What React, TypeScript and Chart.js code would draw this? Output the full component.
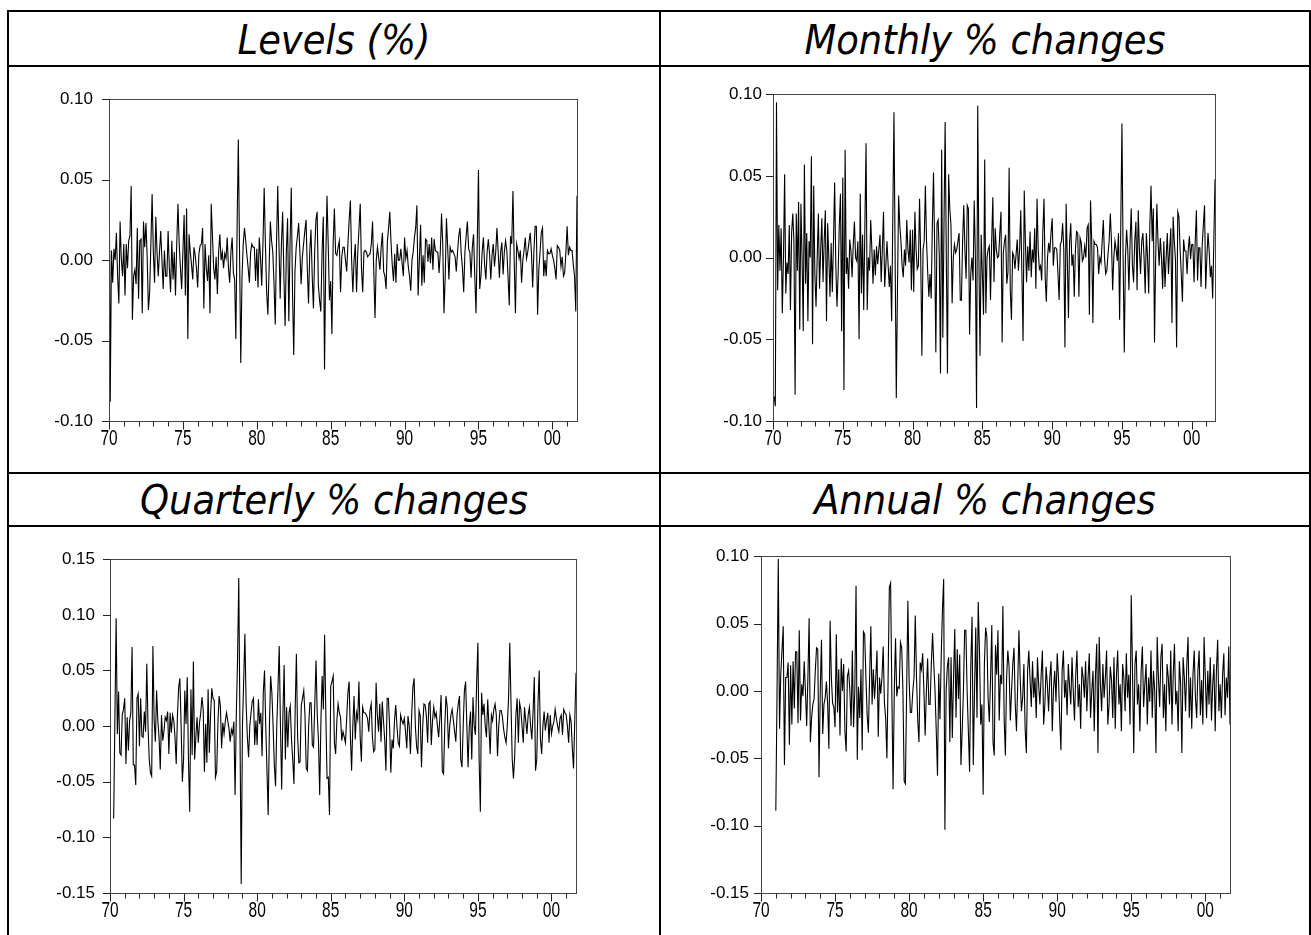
import React, { useEffect, useRef } from "react";
import { Chart, registerables } from "chart.js";

Chart.register(...registerables);

// ---------------- DATA ----------------
const START_YEAR = 1970;
const LAST_MONTH = 380; // 2001M9, months counted from 1970M1

const titles = ["Levels (%)", "Monthly % changes", "Quarterly % changes", "Annual % changes"];

const xTickYears = [1970, 1975, 1980, 1985, 1990, 1995, 2000];
const xTickLabels = ["70", "75", "80", "85", "90", "95", "00"];
const yTicksLevels = [-0.1, -0.05, 0, 0.05, 0.1];
const yTicksMonthly = [-0.1, -0.05, 0, 0.05, 0.1];
const yTicksQuarterly = [-0.15, -0.1, -0.05, 0, 0.05, 0.1, 0.15];
const yTicksAnnual = [-0.15, -0.1, -0.05, 0, 0.05, 0.1];

// Levels (%), starts 1970M1
const levelsStart = 0;
const levelsValues = [
  0.087, -0.088, 0.006, -0.014, 0.007, 0.000, 0.017, -0.010, -0.027, 0.024,
  0.001, -0.010, 0.010, -0.022, 0.010, -0.005, 0.012, 0.015, 0.046, -0.037,
  -0.010, -0.006, -0.015, 0.020, -0.024, 0.012, 0.013, -0.033, 0.024, 0.008,
  0.023, 0.002, -0.031, -0.020, 0.010, 0.041, 0.005, -0.014, 0.027, 0.005,
  -0.010, 0.005, 0.018, 0.000, -0.018, 0.006, -0.010, -0.010, 0.018, -0.005,
  -0.020, 0.012, -0.012, 0.005, -0.022, 0.010, 0.035, 0.010, -0.005, -0.018,
  0.005, 0.028, -0.022, 0.032, -0.049, 0.016, 0.005, -0.003, -0.012, 0.008,
  0.003, -0.005, -0.017, 0.004, 0.009, 0.010, 0.020, -0.030, 0.010, -0.005,
  -0.013, 0.003, -0.033, 0.035, 0.015, -0.005, -0.012, 0.002, -0.021, 0.005,
  0.016, 0.000, 0.005, -0.005, 0.004, 0.001, 0.014, -0.005, -0.014, 0.005,
  0.014, -0.008, -0.012, -0.049, 0.020, 0.075, 0.005, -0.064, -0.010, 0.010,
  0.020, 0.012, 0.003, -0.005, -0.014, 0.005, 0.010, 0.008, 0.008, -0.013,
  0.007, -0.017, 0.014, 0.002, -0.016, 0.010, 0.045, 0.010, -0.020, -0.034,
  -0.005, 0.024, 0.012, 0.005, -0.015, -0.040, 0.010, 0.046, 0.010, -0.024,
  0.010, 0.030, -0.010, -0.041, 0.005, 0.026, -0.038, 0.010, 0.045, -0.020,
  -0.059, -0.007, 0.008, 0.015, 0.023, 0.005, -0.015, 0.002, 0.010, 0.018,
  0.025, -0.005, -0.027, 0.005, 0.019, -0.010, -0.030, 0.005, 0.025, 0.030,
  -0.016, -0.025, -0.032, 0.005, 0.027, -0.068, 0.000, 0.040, 0.010, -0.025,
  -0.013, -0.046, 0.010, 0.032, 0.004, 0.003, 0.008, 0.012, -0.020, 0.002,
  0.008, 0.008, 0.000, -0.007, 0.010, 0.025, 0.037, 0.000, -0.020, 0.000,
  0.010, -0.020, 0.005, 0.020, 0.035, -0.005, -0.020, 0.005, 0.006, 0.005,
  0.002, 0.003, 0.004, 0.010, 0.024, -0.007, -0.036, 0.000, 0.008, 0.001,
  -0.006, 0.008, 0.017, -0.007, -0.010, -0.018, 0.011, 0.020, 0.030, 0.011,
  -0.003, -0.013, 0.004, -0.014, 0.010, 0.000, 0.000, 0.007, -0.002, -0.010,
  0.014, 0.001, 0.006, -0.004, -0.010, -0.019, 0.000, 0.005, 0.014, 0.020,
  0.034, -0.022, 0.000, 0.022, -0.016, 0.003, -0.014, 0.013, 0.012, -0.001,
  0.010, -0.002, 0.014, -0.006, 0.013, 0.006, 0.005, 0.005, -0.008, 0.005,
  0.029, 0.010, -0.033, -0.010, 0.026, 0.008, -0.012, 0.008, 0.005, 0.006,
  0.004, 0.002, -0.007, 0.005, 0.015, 0.020, 0.004, -0.005, -0.020, 0.005,
  0.015, 0.024, 0.007, 0.005, -0.011, 0.008, 0.016, -0.010, -0.033, 0.010,
  0.056, -0.018, -0.010, 0.005, 0.014, -0.003, -0.012, 0.005, 0.013, 0.004,
  -0.012, 0.003, 0.010, -0.004, 0.005, 0.020, 0.005, -0.011, 0.005, 0.011,
  -0.009, 0.005, 0.012, 0.006, -0.010, -0.028, 0.015, 0.010, 0.043, 0.000,
  -0.033, 0.010, 0.006, 0.001, 0.006, -0.014, 0.000, 0.006, 0.014, 0.001,
  0.005, 0.011, 0.017, 0.005, -0.017, 0.005, 0.021, 0.021, -0.034, -0.006,
  0.005, 0.017, 0.020, -0.010, 0.000, -0.010, 0.006, 0.004, 0.004, 0.007,
  0.003, 0.000, -0.005, -0.012, 0.009, 0.008, 0.006, -0.004, 0.002, -0.010,
  -0.008, 0.005, 0.021, 0.003, 0.008, 0.006, 0.006, -0.003, -0.010, -0.032,
  0.040,
];

// Monthly % changes, starts 1970M2
const monthlyStart = 1;
const monthlyValues = [
  -0.085, -0.091, 0.095, -0.020, 0.020, -0.008, 0.018, -0.034, 0.000, 0.051,
  -0.022, -0.003, -0.010, 0.020, -0.032, 0.015, 0.027, 0.010, -0.084, 0.027,
  -0.008, 0.034, -0.044, 0.033, 0.000, -0.045, 0.057, -0.016, 0.015, -0.039,
  0.010, 0.000, 0.062, -0.053, 0.044, -0.010, -0.030, 0.000, 0.027, -0.019,
  0.005, 0.024, -0.015, 0.010, 0.029, -0.039, 0.021, 0.000, -0.024, 0.009,
  -0.021, 0.010, 0.046, -0.005, -0.030, -0.010, 0.020, 0.039, -0.045, 0.049,
  -0.081, 0.066, -0.010, 0.000, -0.019, 0.011, 0.004, -0.012, 0.008, 0.022,
  0.000, -0.002, 0.010, -0.050, 0.039, -0.022, 0.014, -0.032, 0.020, 0.070,
  -0.032, 0.000, -0.008, 0.023, 0.005, -0.016, 0.005, -0.011, 0.007, -0.004,
  0.005, 0.014, -0.015, 0.005, 0.028, -0.018, -0.005, 0.010, -0.005, -0.018,
  -0.005, -0.039, 0.025, 0.089, 0.000, -0.086, -0.020, 0.038, 0.020, 0.010,
  -0.005, -0.012, 0.005, -0.005, 0.023, 0.005, -0.003, 0.017, -0.020, 0.017,
  -0.021, 0.028, 0.005, -0.007, -0.005, 0.036, 0.000, -0.060, 0.005, 0.010,
  0.044, 0.010, -0.009, -0.024, -0.010, -0.025, 0.020, 0.052, 0.005, -0.058,
  0.021, 0.023, 0.000, -0.071, 0.066, -0.049, 0.020, 0.083, 0.000, -0.071,
  0.051, 0.030, 0.020, -0.028, 0.000, 0.008, 0.003, 0.005, 0.010, 0.015,
  -0.026, -0.026, 0.010, 0.032, 0.005, -0.013, 0.032, 0.030, -0.047, -0.010,
  0.000, -0.014, 0.035, 0.000, -0.092, 0.093, 0.000, -0.060, 0.014, -0.010,
  -0.035, 0.060, -0.034, 0.000, 0.005, 0.007, -0.026, 0.010, 0.037, -0.015,
  0.018, 0.005, 0.000, 0.001, 0.015, 0.028, -0.052, 0.003, 0.010, 0.014,
  -0.016, -0.009, 0.055, -0.020, -0.038, 0.003, 0.001, -0.007, 0.002, 0.011,
  -0.008, 0.005, 0.029, -0.010, -0.051, 0.041, 0.010, -0.015, 0.007, -0.008,
  0.016, -0.012, 0.005, -0.003, 0.018, -0.019, 0.036, 0.005, -0.007, -0.005,
  -0.014, 0.016, 0.036, -0.012, -0.027, 0.000, 0.009, 0.003, 0.015, 0.024,
  -0.005, 0.006, 0.006, 0.005, -0.010, -0.026, 0.008, 0.010, 0.021, 0.005,
  -0.055, 0.033, 0.000, -0.037, 0.010, 0.021, -0.005, 0.002, -0.024, 0.005,
  0.016, 0.015, -0.024, 0.012, 0.009, -0.002, 0.000, 0.007, 0.000, 0.018,
  0.020, -0.035, 0.035, 0.010, -0.040, 0.010, 0.008, 0.008, 0.006, -0.010,
  0.000, -0.003, 0.010, 0.023, 0.000, -0.010, -0.008, 0.002, 0.010, 0.027,
  0.010, -0.020, 0.000, 0.010, 0.005, -0.002, 0.015, -0.038, 0.020, 0.082,
  0.000, -0.058, 0.000, 0.017, 0.005, -0.020, 0.010, 0.030, -0.005, -0.015,
  0.010, 0.022, -0.020, 0.029, 0.005, -0.010, 0.010, 0.015, 0.000, -0.022,
  0.015, 0.000, -0.022, 0.020, 0.044, 0.010, 0.030, -0.052, 0.000, 0.033,
  0.010, -0.005, 0.012, 0.000, -0.019, 0.010, -0.018, 0.000, 0.015, -0.010,
  0.005, 0.018, -0.040, 0.025, 0.010, -0.001, -0.055, 0.028, 0.025, 0.005,
  -0.010, -0.027, 0.011, 0.004, 0.004, -0.010, 0.005, 0.013, -0.001, 0.008,
  0.008, -0.015, 0.010, 0.029, -0.014, 0.006, 0.006, -0.018, 0.008, 0.020,
  0.032, -0.019, 0.000, 0.015, 0.004, -0.012, -0.005, -0.025, 0.010, 0.048,
];

// Quarterly % changes, starts 1970M4
const quarterlyStart = 3;
const quarterlyValues = [
  -0.083, 0.007, 0.097, -0.007, 0.031, -0.024, -0.026, 0.010, 0.015, 0.025,
  -0.034, 0.008, -0.022, 0.005, 0.012, 0.071, -0.035, -0.035, -0.053, 0.025,
  0.029, -0.018, 0.025, -0.009, -0.010, 0.013, -0.005, 0.056, 0.000, -0.030,
  -0.042, -0.045, 0.072, 0.005, -0.014, 0.032, 0.005, -0.010, -0.039, 0.010,
  -0.013, -0.005, 0.008, 0.005, 0.013, -0.025, 0.012, -0.006, 0.010, 0.005,
  -0.010, -0.034, 0.010, 0.035, 0.043, 0.000, -0.050, -0.030, 0.032, 0.002,
  0.044, -0.032, -0.077, 0.033, -0.026, 0.058, -0.030, -0.010, 0.008, -0.015,
  0.003, 0.012, 0.026, 0.015, -0.041, 0.002, -0.033, 0.033, -0.024, 0.010,
  0.034, 0.025, 0.023, -0.046, -0.041, 0.003, 0.027, 0.018, -0.020, 0.003,
  -0.007, 0.004, 0.012, 0.005, -0.002, -0.014, -0.003, -0.007, 0.004, -0.062,
  0.010, 0.060, 0.133, -0.005, -0.142, 0.000, 0.040, 0.083, 0.020, -0.010,
  -0.028, 0.000, 0.012, 0.022, 0.025, -0.017, 0.005, -0.017, 0.024, 0.002,
  0.012, -0.027, 0.030, 0.050, 0.000, -0.040, -0.080, 0.000, 0.045, 0.030,
  0.000, -0.035, -0.054, 0.000, 0.035, 0.072, 0.000, -0.057, 0.010, 0.055,
  -0.030, 0.017, -0.019, 0.012, 0.018, -0.012, -0.030, -0.052, 0.015, 0.065,
  -0.010, -0.033, -0.032, 0.019, 0.025, 0.032, 0.010, -0.038, -0.040, 0.000,
  0.021, 0.021, -0.017, -0.019, 0.020, 0.059, 0.010, -0.013, -0.062, 0.005,
  0.045, 0.015, 0.082, 0.010, -0.047, -0.046, -0.080, 0.036, 0.040, 0.045,
  -0.015, -0.025, 0.005, 0.020, 0.012, 0.008, -0.013, -0.005, -0.010, -0.015,
  0.007, 0.030, 0.040, -0.008, -0.040, 0.000, 0.027, -0.012, 0.012, 0.006,
  0.040, -0.010, -0.032, 0.017, 0.012, 0.012, 0.010, 0.007, -0.005, 0.014,
  0.020, -0.010, -0.023, -0.021, 0.039, 0.010, -0.005, 0.020, -0.014, 0.022,
  0.005, -0.012, -0.040, 0.025, 0.025, 0.000, -0.042, -0.012, -0.020, 0.005,
  0.019, 0.000, -0.015, -0.018, 0.010, 0.005, 0.002, 0.007, -0.005, -0.020,
  0.009, 0.000, -0.025, 0.010, 0.035, 0.043, 0.000, -0.018, -0.025, 0.014,
  0.009, -0.037, 0.000, 0.020, 0.019, 0.009, -0.015, 0.020, 0.022, -0.017,
  0.005, 0.017, 0.008, 0.012, 0.000, -0.010, 0.007, 0.028, -0.041, -0.043,
  0.000, 0.027, 0.017, -0.020, 0.000, 0.010, 0.015, 0.005, -0.005, -0.014,
  0.010, 0.020, 0.027, -0.030, -0.037, 0.000, 0.032, 0.040, 0.000, -0.037,
  0.000, 0.013, -0.030, 0.026, 0.000, -0.008, 0.040, 0.075, -0.030, -0.077,
  0.030, 0.010, 0.020, 0.000, -0.010, 0.024, 0.000, -0.025, 0.010, 0.005,
  0.015, 0.020, 0.010, -0.027, 0.000, 0.014, 0.014, 0.008, -0.003, -0.010,
  -0.015, 0.001, 0.025, 0.075, 0.020, -0.030, -0.047, -0.027, 0.010, 0.025,
  -0.015, 0.021, 0.015, 0.000, -0.015, 0.017, 0.005, -0.007, 0.010, 0.017,
  0.000, -0.012, 0.013, 0.044, -0.040, -0.030, 0.020, 0.050, -0.012, -0.025,
  0.000, 0.013, -0.004, 0.005, 0.012, -0.015, 0.010, -0.007, 0.000, 0.004,
  0.015, 0.007, 0.000, -0.005, 0.007, 0.010, -0.008, 0.015, 0.012, 0.010,
  0.000, -0.015, 0.010, 0.004, -0.020, -0.038, 0.005, 0.048,
];

// Annual % changes, starts 1971M1
const annualStart = 12;
const annualValues = [
  -0.089, 0.000, 0.098, -0.028, 0.012, 0.030, 0.048, -0.055, 0.010, 0.010,
  0.021, -0.040, 0.019, -0.025, 0.022, -0.013, 0.029, 0.029, -0.024, 0.045,
  -0.022, 0.005, -0.004, 0.022, 0.000, -0.026, 0.010, 0.054, -0.038, -0.020,
  -0.010, -0.006, 0.015, 0.032, 0.031, -0.064, 0.000, 0.038, -0.032, -0.010,
  -0.005, 0.007, -0.010, -0.043, 0.052, 0.010, -0.009, -0.012, -0.027, 0.042,
  -0.016, 0.016, -0.033, 0.024, 0.000, 0.020, -0.030, -0.045, 0.011, 0.015,
  0.000, -0.026, 0.030, -0.027, 0.000, 0.078, -0.051, 0.003, -0.020, 0.016,
  -0.044, 0.044, 0.042, 0.010, -0.018, -0.031, 0.010, 0.048, -0.010, 0.016,
  -0.006, 0.010, 0.030, -0.034, 0.010, -0.002, 0.010, 0.033, -0.009, -0.020,
  -0.050, 0.010, 0.077, 0.080, 0.000, -0.073, 0.000, 0.039, -0.004, 0.003,
  0.002, 0.036, 0.032, 0.000, -0.067, -0.069, 0.000, 0.067, 0.008, -0.016,
  -0.016, 0.000, 0.010, 0.056, 0.010, -0.022, -0.038, 0.021, 0.016, 0.028,
  0.000, -0.033, 0.000, 0.024, -0.010, -0.010, 0.020, 0.043, 0.020, 0.000,
  -0.030, -0.063, 0.013, -0.021, 0.025, 0.060, 0.083, -0.103, 0.000, 0.018,
  0.025, -0.038, 0.025, -0.035, 0.010, 0.046, -0.020, 0.031, -0.006, 0.027,
  -0.055, -0.030, 0.000, 0.045, 0.045, 0.000, -0.030, -0.060, 0.020, 0.055,
  -0.055, 0.000, 0.047, -0.020, 0.066, 0.030, -0.025, -0.010, -0.077, 0.020,
  0.047, 0.040, -0.005, -0.023, 0.010, 0.049, -0.038, -0.048, 0.034, 0.012,
  0.045, -0.022,
  0.012, 0.005, 0.063, -0.020, -0.048, 0.010, 0.030, 0.018, -0.022, 0.000,
  0.020, 0.032, -0.010, -0.030, 0.005, 0.045, 0.010, -0.015, -0.005, 0.020,
  -0.028, -0.046, 0.015, 0.030, 0.008, -0.012, 0.022, -0.005, 0.010, -0.020,
  0.025, 0.004, -0.010, 0.012, 0.030, -0.025, -0.010, 0.018, 0.005, -0.015,
  0.010, 0.022, -0.030, 0.002, 0.015, -0.008, 0.028, 0.010, -0.020, -0.044,
  0.015, 0.030, -0.005, 0.008, -0.018, 0.020, 0.003, -0.010, 0.025, 0.000,
  -0.022, 0.012, 0.030, -0.012, 0.005, -0.028, 0.018, 0.010, -0.005, 0.022,
  -0.015, 0.010, 0.028, -0.020, 0.000, 0.015, -0.030, 0.012, 0.035, -0.046,
  0.040, 0.005, -0.015, 0.020, -0.005, 0.010, 0.030, -0.025, -0.010, 0.018,
  0.008, -0.020, 0.025, -0.028, 0.012, 0.030, -0.010, 0.005, -0.030, 0.020,
  0.010, -0.015, 0.028, -0.005, 0.012, -0.025, 0.071, 0.015, -0.046, 0.020,
  0.030, -0.010, 0.005, -0.030, 0.015, 0.033, -0.012, 0.005, 0.020, -0.025,
  0.010, -0.008, 0.030, -0.020, 0.015, 0.000, -0.046, 0.040, 0.010, -0.012,
  0.025, 0.035, -0.020, 0.005, -0.030, 0.020, 0.010, -0.010, 0.030, -0.025,
  0.012, 0.035, -0.010, 0.000, -0.030, 0.022, 0.005, -0.046, 0.025, 0.010,
  -0.015, 0.020, 0.040, -0.020, 0.010, -0.028, 0.012, 0.030, -0.005, -0.020,
  0.015, 0.030, -0.018, 0.008, -0.025, 0.040, 0.010, -0.020, 0.015, -0.010,
  0.025, -0.022, 0.005, 0.020, -0.030, 0.015, 0.038, -0.015, 0.005, -0.020,
  0.012, 0.028, -0.018, 0.010, -0.005, 0.033, -0.025,
];

// ---------------- LAYOUT ----------------
type Rect = { l: number; t: number; r: number; b: number };
type PanelCfg = {
  values: number[];
  start: number;
  yMin: number;
  yMax: number;
  yTicks: number[];
  plot: Rect;
  yPad: number;
};

const PADL = 100;
const PADT = 20;
const PADR = 30;
const PADB = 45;

const framePlugin = {
  id: "evFrame",
  afterDraw(chart: any, _args: any, opts: any) {
    const { ctx, chartArea } = chart;
    const { left, top, right, bottom } = chartArea;
    const xs = chart.scales.x;
    const ys = chart.scales.y;
    const yTicks: number[] = opts.yTicks || [];
    ctx.save();
    ctx.strokeStyle = "#454545";
    ctx.lineWidth = 1;
    ctx.strokeRect(Math.round(left) + 0.5, Math.round(top) + 0.5, Math.round(right - left), Math.round(bottom - top));
    ctx.strokeStyle = "#222";
    ctx.beginPath();
    yTicks.forEach((v) => {
      const y = Math.round(ys.getPixelForValue(v)) + 0.5;
      ctx.moveTo(left - 7, y);
      ctx.lineTo(left + 0.5, y);
    });
    for (let yr = xTickYears[0]; yr <= 2001; yr++) {
      const x = Math.round(xs.getPixelForValue(yr)) + 0.5;
      const len = yr % 5 === 0 ? 8 : 5;
      ctx.moveTo(x, Math.round(bottom) + 0.5);
      ctx.lineTo(x, Math.round(bottom) + 0.5 + len);
    }
    ctx.stroke();
    ctx.fillStyle = "#000";
    ctx.font = '15.5px "Liberation Sans", Arial, sans-serif';
    ctx.textAlign = "center";
    ctx.textBaseline = "top";
    xTickYears.forEach((yr, i) => {
      const x = xs.getPixelForValue(yr);
      ctx.save();
      ctx.translate(x, bottom + 7);
      ctx.scale(1, 1.4);
      ctx.fillText(xTickLabels[i], 0, 0);
      ctx.restore();
    });
    ctx.restore();
  },
};

function Panel({ cfg }: { cfg: PanelCfg }) {
  const ref = useRef<HTMLCanvasElement>(null);
  const { l, t, r, b } = cfg.plot;
  const w = r - l + PADL + PADR;
  const h = b - t + PADT + PADB;

  useEffect(() => {
    const canvas = ref.current;
    if (!canvas) return;
    const data = cfg.values.map((v, i) => ({ x: START_YEAR + (cfg.start + i) / 12, y: v }));
    const chart = new Chart(canvas, {
      type: "line",
      data: {
        datasets: [
          {
            data,
            borderColor: "#000",
            borderWidth: 1.1,
            pointRadius: 0,
            fill: false,
            tension: 0,
          },
        ],
      },
      options: {
        animation: false,
        responsive: false,
        maintainAspectRatio: false,
        devicePixelRatio: 1,
        events: [],
        layout: { padding: { left: 0, top: PADT, right: PADR, bottom: 0 } },
        plugins: {
          legend: { display: false },
          tooltip: { enabled: false },
          evFrame: { yTicks: cfg.yTicks },
        } as any,
        scales: {
          x: {
            type: "linear",
            min: START_YEAR,
            max: START_YEAR + LAST_MONTH / 12,
            grid: { display: false, drawTicks: false },
            border: { display: false },
            ticks: { display: false },
            afterBuildTicks: (s: any) => {
              s.ticks = xTickYears.map((v) => ({ value: v }));
            },
            afterFit: (s: any) => {
              s.height = PADB;
            },
          },
          y: {
            type: "linear",
            min: cfg.yMin,
            max: cfg.yMax,
            grid: { display: false, drawTicks: false },
            border: { display: false },
            ticks: {
              color: "#000",
              padding: cfg.yPad,
              font: { family: '"Liberation Sans", Arial, sans-serif', size: 17 },
              callback: (v: any) => Number(v).toFixed(2),
            },
            afterBuildTicks: (s: any) => {
              s.ticks = cfg.yTicks.map((v) => ({ value: v }));
            },
            afterFit: (s: any) => {
              s.width = PADL;
            },
          },
        } as any,
      },
      plugins: [framePlugin],
    });
    return () => chart.destroy();
  }, []);

  return (
    <canvas
      ref={ref}
      width={w}
      height={h}
      style={{ position: "absolute", left: l - PADL, top: t - PADT, width: w, height: h }}
    />
  );
}

const panels: PanelCfg[] = [
  { values: levelsValues, start: levelsStart, yMin: -0.1, yMax: 0.1, yTicks: yTicksLevels, plot: { l: 109, t: 93, r: 577, b: 421 }, yPad: 16 },
  { values: monthlyValues, start: monthlyStart, yMin: -0.1, yMax: 0.1, yTicks: yTicksMonthly, plot: { l: 773, t: 93, r: 1215, b: 421 }, yPad: 11 },
  { values: quarterlyValues, start: quarterlyStart, yMin: -0.15, yMax: 0.15, yTicks: yTicksQuarterly, plot: { l: 110, t: 554, r: 576, b: 893 }, yPad: 15 },
  { values: annualValues, start: annualStart, yMin: -0.15, yMax: 0.1, yTicks: yTicksAnnual, plot: { l: 761, t: 554, r: 1230, b: 893 }, yPad: 12 },
];

const line = (left: number, top: number, width: number, height: number): React.CSSProperties => ({
  position: "absolute",
  left,
  top,
  width,
  height,
  background: "#000",
});

const titleStyle = (left: number, width: number, top: number): React.CSSProperties => ({
  position: "absolute",
  left,
  width,
  top,
  textAlign: "center",
  fontFamily: '"DejaVu Sans Condensed", "DejaVu Sans", Verdana, sans-serif',
  fontStretch: "condensed",
  fontStyle: "italic",
  fontSize: 41,
  lineHeight: "41px",
  color: "#000",
  whiteSpace: "nowrap",
});

export default function App() {
  return (
    <div
      style={{
        position: "fixed",
        left: 0,
        top: 0,
        width: 1311,
        height: 935,
        background: "#fff",
        overflow: "hidden",
      }}
    >
      <div style={line(7, 10, 1304, 2)} />
      <div style={line(7, 65, 1304, 2)} />
      <div style={line(7, 472, 1304, 2)} />
      <div style={line(7, 525, 1304, 2)} />
      <div style={line(7, 10, 2, 925)} />
      <div style={line(659, 10, 2, 925)} />
      <div style={line(1309, 10, 2, 925)} />

      <div style={titleStyle(9, 650, 20)}>{titles[0]}</div>
      <div style={titleStyle(661, 648, 20)}>{titles[1]}</div>
      <div style={titleStyle(9, 650, 480)}>{titles[2]}</div>
      <div style={titleStyle(661, 648, 480)}>{titles[3]}</div>

      {panels.map((p, i) => (
        <Panel key={i} cfg={p} />
      ))}
    </div>
  );
}
